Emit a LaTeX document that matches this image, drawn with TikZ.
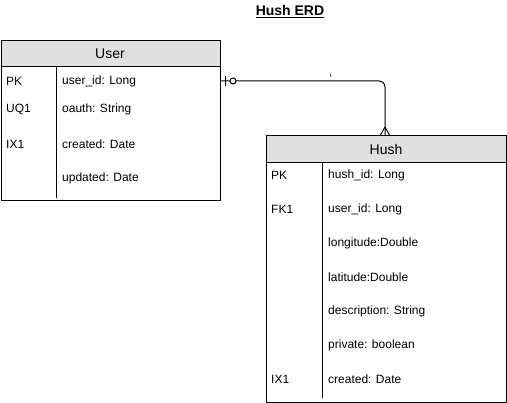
\documentclass[tikz,border=0pt]{standalone}
\usepackage{fontspec}
\setmainfont{Liberation Sans}
\usetikzlibrary{calc}
\definecolor{hdr}{HTML}{E0E0E0}
\begin{document}
\begin{tikzpicture}[x=1pt,y=-1pt,
  tbl/.style={draw=black,line width=1pt,anchor=north west,inner sep=0pt},
  hdrbox/.style={draw=black,fill=hdr,line width=1pt,anchor=north west,inner sep=0pt},
  hdrtxt/.style={font=\fontsize{14}{16}\selectfont,inner sep=0pt},
  fld/.style={font=\fontsize{12}{14}\selectfont,anchor=west,inner sep=0pt},
  conn/.style={line width=1pt,black}]
\useasboundingbox (0,0) rectangle (507,403);
% title
\node[font=\bfseries\fontsize{14}{16}\selectfont,inner sep=0pt] (title) at (290,12) {\underline{Hush ERD}};
% User table
\node[tbl,minimum width=219.5pt,minimum height=160pt] (user) at (0.5,40.5) {};
\node[hdrbox,minimum width=219.5pt,minimum height=25.5pt] (userhdr) at (0.5,40.5) {};
\node[hdrtxt] (usertitle) at (110,53.5) {User};
\draw[line width=1pt] (56,66) -- (56,198);
\node[fld] (u1k) at (6,81) {PK};
\node[fld] (u1f) at (62,81) {user\_id: Long};
\node[fld] (u2k) at (6,109) {UQ1};
\node[fld] (u2f) at (62,109) {oauth: String};
\node[fld] (u3k) at (6,144) {IX1};
\node[fld] (u3f) at (62,144) {created: Date};
\node[fld] (u4f) at (62,178) {updated: Date};
% Hush table
\node[tbl,minimum width=240pt,minimum height=267pt] (hush) at (266,135) {};
\node[hdrbox,minimum width=240pt,minimum height=27pt] (hushhdr) at (266,135) {};
\node[hdrtxt] (hushtitle) at (386,149) {Hush};
\draw[line width=1pt] (322,162) -- (322,398);
\node[fld] (h1k) at (271,175) {PK};
\node[fld] (h1f) at (328,175) {hush\_id: Long};
\node[fld] (h2k) at (271,209) {FK1};
\node[fld] (h2f) at (328,209) {user\_id: Long};
\node[fld] (h3f) at (328,243) {longitude:Double};
\node[fld] (h4f) at (328,277) {latitude:Double};
\node[fld] (h5f) at (328,311) {description: String};
\node[fld] (h6f) at (328,345) {private: boolean};
\node[fld] (h7k) at (271,379) {IX1};
\node[fld] (h7f) at (328,379) {created: Date};
% connector
\coordinate (cs) at (user.east |- u1f);
\coordinate (ce) at (385,135);
\draw[conn,rounded corners=6pt] (cs) -- (ce |- cs) -- (ce);
\draw[conn] ($(cs)+(4,-5)$) -- ($(cs)+(4,5)$);
\draw[conn,fill=white] ($(cs)+(12,0)$) circle (3pt);
\draw[conn] ($(ce)+(0,-8)$) -- ($(ce)+(-4.5,0)$)
            ($(ce)+(0,-8)$) -- ($(ce)+(4.5,0)$);
\node[font=\fontsize{12}{14}\selectfont,inner sep=0pt] (tick) at (331,78) {\symbol{96}};
\end{tikzpicture}
\end{document}
